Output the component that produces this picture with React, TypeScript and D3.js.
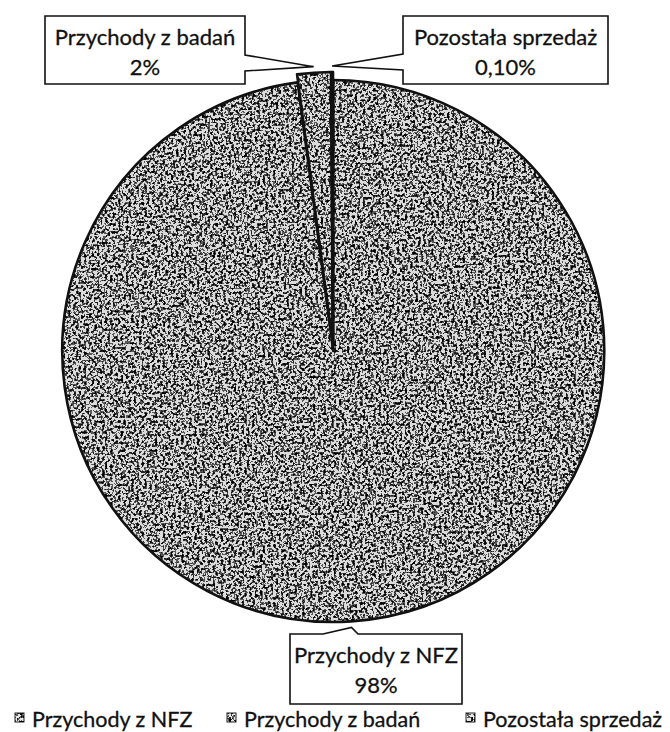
import { useMemo } from 'react';

import { arc, pie, PieArcDatum } from 'd3';

const categories = ['Przychody z NFZ', 'Przychody z badań', 'Pozostała sprzedaż'];
const shares = [97.9, 2, 0.1];
const shareLabels = ['98%', '2%', '0,10%'];

type Slice = { name: string; value: number; label: string };

const slices: Slice[] = categories.map((name, i) => ({
  name,
  value: shares[i],
  label: shareLabels[i],
}));

const width = 670,
  height = 732;
const cx = 333,
  cy = 347,
  radius = 271,
  explode = 4;

const font = 'Lato, "Open Sans", sans-serif';

// callout boxes: [x, y, w, h, side of the wedge]
const boxes = [
  { x: 290, y: 634, w: 172, h: 70, side: 'top' },
  { x: 45, y: 16, w: 200, h: 68, side: 'right' },
  { x: 403, y: 16, w: 205, h: 68, side: 'left' },
];

const legendX = [15, 227, 466];

function calloutPath(b: (typeof boxes)[number], tip: [number, number]) {
  const { x, y, w, h, side } = b;
  const [tx, ty] = tip;
  if (side === 'top') {
    return `M${x},${y}L${x + 33},${y}L${tx},${ty}L${x + 68},${y}L${x + w},${y}L${x + w},${y + h}L${x},${y + h}Z`;
  }
  if (side === 'right') {
    return `M${x},${y}L${x + w},${y}L${x + w},${y + 39}L${tx},${ty}L${x + w},${y + 55}L${x + w},${y + h}L${x},${y + h}Z`;
  }
  return `M${x},${y}L${x + w},${y}L${x + w},${y + h}L${x},${y + h}L${x},${y + 54}L${tx},${ty}L${x},${y + 38}Z`;
}

export default function App() {
  const arcs = useMemo(
    () =>
      pie<Slice>()
        .sort(null)
        .value((d) => d.value)(slices),
    []
  );

  const arcGen = useMemo(
    () => arc<PieArcDatum<Slice>>().innerRadius(0).outerRadius(radius),
    []
  );

  const offset = (a: PieArcDatum<Slice>, r: number): [number, number] => {
    const m = (a.startAngle + a.endAngle) / 2;
    return [Math.sin(m) * r, -Math.cos(m) * r];
  };

  return (
    <svg
      width={width}
      height={height}
      style={{ position: 'absolute', left: 0, top: 0, background: '#fff' }}
    >
      <defs>
        <filter id="speckle" x="0" y="0" width="100%" height="100%">
          <feTurbulence type="fractalNoise" baseFrequency="0.38" numOctaves="2" seed="4" result="n" />
          <feColorMatrix
            in="n"
            type="matrix"
            values="0 0 0 0 0  0 0 0 0 0  0 0 0 0 0  1 0 0 0 0"
          />
          <feComponentTransfer>
            <feFuncA type="discrete" tableValues="0 0 0 0 0 0 0.6 0.85 1 1 1 1" />
          </feComponentTransfer>
        </filter>
        <filter id="dust" x="0" y="0" width="100%" height="100%">
          <feTurbulence type="fractalNoise" baseFrequency="0.9" numOctaves="1" seed="9" result="n" />
          <feColorMatrix
            in="n"
            type="matrix"
            values="0 0 0 0 0.45  0 0 0 0 0.45  0 0 0 0 0.45  1 0 0 0 0"
          />
          <feComponentTransfer>
            <feFuncA type="discrete" tableValues="0 0 0 0 0 0 0 0 0 0 0 0 0 0.8" />
          </feComponentTransfer>
        </filter>
        {arcs.map((a, i) => {
          const [dx, dy] = offset(a, explode);
          return (
            <clipPath id={`clip-${i}`} key={i}>
              <path d={arcGen(a) ?? ''} transform={`translate(${cx + dx},${cy + dy})`} />
            </clipPath>
          );
        })}
        <clipPath id="clip-legend">
          {legendX.map((x, i) => (
            <rect key={i} x={x} y={713} width={9} height={9} />
          ))}
        </clipPath>
      </defs>

      <rect width={width} height={height} fill="#000" filter="url(#dust)" />

      <g className="slices">
        {arcs.map((a, i) => {
          const [dx, dy] = offset(a, explode);
          return (
            <g key={i}>
              <path
                d={arcGen(a) ?? ''}
                transform={`translate(${cx + dx},${cy + dy})`}
                fill="#dcdcdc"
              />
              <rect
                x={0}
                y={0}
                width={width}
                height={height}
                fill="#1a1a1a"
                filter="url(#speckle)"
                clipPath={`url(#clip-${i})`}
              />
              <path
                d={arcGen(a) ?? ''}
                transform={`translate(${cx + dx},${cy + dy})`}
                fill="none"
                stroke="#111"
                strokeWidth={2.6}
                strokeLinejoin="round"
              />
            </g>
          );
        })}
      </g>

      <g
        className="labels"
        fontFamily={font}
        fontSize={22}
        fill="#111"
        stroke="#111"
        strokeWidth={0.3}
        textAnchor="middle"
      >
        {arcs.map((a, i) => {
          const [dx, dy] = offset(a, radius + explode + 6);
          const tip: [number, number] = [cx + dx, cy + dy];
          const b = boxes[i];
          return (
            <g key={i}>
              <path
                d={calloutPath(b, tip)}
                fill="#fff"
                fillOpacity={0.85}
                stroke="#111"
                strokeWidth={1.6}
              />
              <text x={b.x + b.w / 2} y={b.y + 29}>
                {a.data.name}
              </text>
              <text x={b.x + b.w / 2} y={b.y + 59}>
                {a.data.label}
              </text>
            </g>
          );
        })}
      </g>

      <g className="legend" fontFamily={font} fontSize={21.5} fill="#111" stroke="#111" strokeWidth={0.3}>
        {legendX.map((x, i) => (
          <rect key={i} x={x} y={713} width={9} height={9} fill="#e6e6e6" stroke="#222" strokeWidth={1} />
        ))}
        <rect width={width} height={height} fill="#1a1a1a" stroke="none" filter="url(#speckle)" clipPath="url(#clip-legend)" />
        {slices.map((s, i) => (
          <text key={i} x={legendX[i] + 17} y={727}>
            {s.name}
          </text>
        ))}
      </g>
    </svg>
  );
}
